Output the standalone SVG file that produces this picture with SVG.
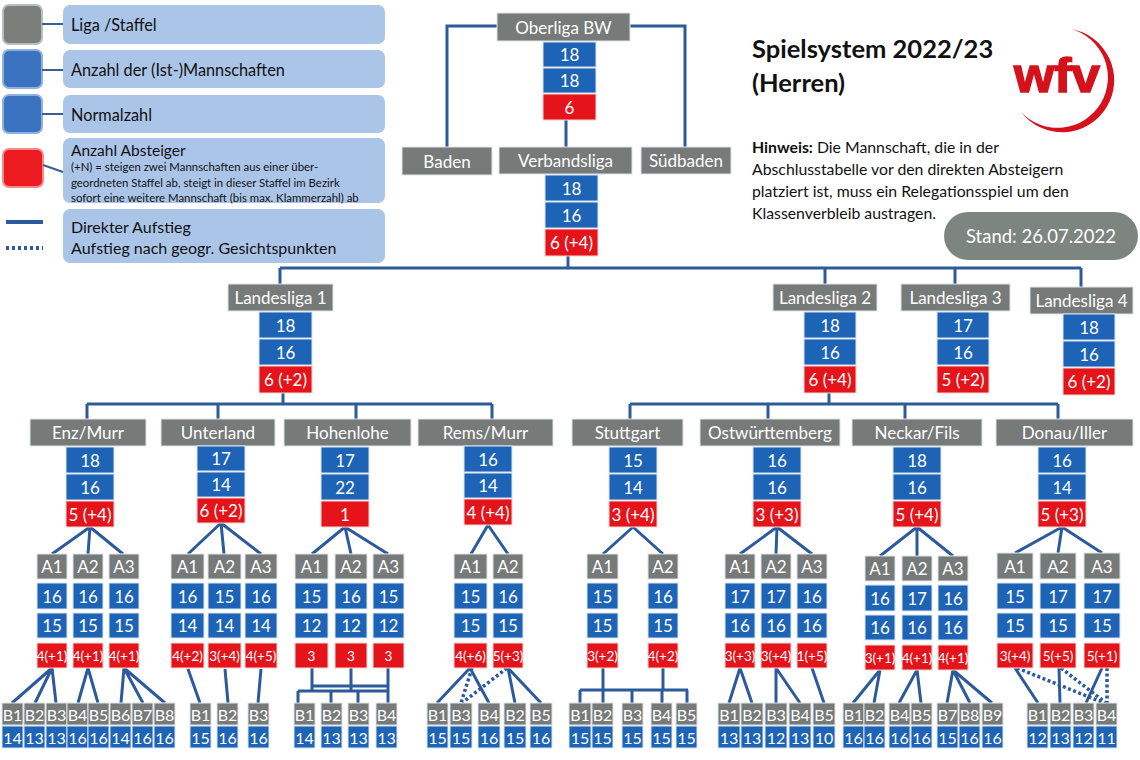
<svg xmlns="http://www.w3.org/2000/svg" width="1140" height="760" viewBox="0 0 1140 760">
<style>
rect.g{fill:#767a78;stroke:#dfe3e6;stroke-width:1}
rect.b{fill:#1d63b6;stroke:#dce6f4;stroke-width:1}
rect.r{fill:#e5141b;stroke:#f3d6d6;stroke-width:1}
text{font-family:Lato,"Liberation Sans",sans-serif;fill:#fff;text-anchor:middle;dominant-baseline:central;font-size:17px}
.h{font-size:17px}
.s{font-size:13.5px}
.bb text{font-size:16px}
.k{fill:#111;text-anchor:start;dominant-baseline:auto}
.c path{fill:none;stroke:#2d5a9b;stroke-width:3}
.c path.d{stroke-dasharray:3 2.5;stroke-width:3.5}
.lb{fill:#abc5e8}
</style>
<rect width="1140" height="760" fill="#fff"/>

<g id="legend">
<rect class="lb" x="63" y="5" width="322" height="39" rx="7"/>
<rect class="lb" x="63" y="50" width="322" height="38" rx="7"/>
<rect class="lb" x="63" y="95" width="322" height="38" rx="7"/>
<rect class="lb" x="63" y="138" width="322" height="65" rx="7"/>
<rect class="lb" x="63" y="209" width="322" height="54" rx="7"/>
<rect x="3" y="5" width="39" height="39" rx="6" fill="#7b7f7c" stroke="#b9bdbb" stroke-width="2"/>
<rect x="3" y="50" width="39" height="38" rx="6" fill="#3c73c0" stroke="#8fb1e0" stroke-width="2"/>
<rect x="3" y="95" width="39" height="38" rx="6" fill="#3c73c0" stroke="#8fb1e0" stroke-width="2"/>
<rect x="3" y="149" width="40" height="38" rx="6" fill="#ec1b1f" stroke="#f58b8d" stroke-width="2"/>
<path d="M42,24H63M42,70H63M42,114H63M43,165L63,172" stroke="#3b5f94" stroke-width="2" fill="none"/>
<path d="M6,222H43" stroke="#2d5a9b" stroke-width="4"/>
<path d="M6,248H43" stroke="#2d5a9b" stroke-width="4" stroke-dasharray="3 3"/>
<text class="k" x="71" y="31" style="font-size:16.3px">Liga /Staffel</text>
<text class="k" x="71" y="76" style="font-size:16.3px">Anzahl der (Ist-)Mannschaften</text>
<text class="k" x="71" y="121" style="font-size:16.3px">Normalzahl</text>
<text class="k" x="71" y="156" style="font-size:15.5px">Anzahl Absteiger</text>
<text class="k" x="71" y="171" style="font-size:11.4px">(+N) = steigen zwei Mannschaften aus einer über-</text>
<text class="k" x="71" y="187" style="font-size:11.4px">geordneten Staffel ab, steigt in dieser Staffel im Bezirk</text>
<text class="k" x="71" y="202" style="font-size:11.4px">sofort eine weitere Mannschaft (bis max. Klammerzahl) ab</text>
<text class="k" x="71" y="233" style="font-size:16px">Direkter Aufstieg</text>
<text class="k" x="71" y="254" style="font-size:16px">Aufstieg nach geogr. Gesichtspunkten</text>
</g>

<g id="title">
<text class="k" x="752" y="58" style="font-size:25.5px;font-weight:bold">Spielsystem 2022/23</text>
<text class="k" x="752" y="92" style="font-size:25.5px;font-weight:bold">(Herren)</text>
<text class="k" x="752" y="153" style="font-size:15.8px"><tspan font-weight="bold">Hinweis:</tspan> Die Mannschaft, die in der</text>
<text class="k" x="752" y="175" style="font-size:15.8px">Abschlusstabelle vor den direkten Absteigern</text>
<text class="k" x="752" y="197" style="font-size:15.8px">platziert ist, muss ein Relegationsspiel um den</text>
<text class="k" x="752" y="219" style="font-size:15.8px">Klassenverbleib austragen.</text>
</g>

<g id="logo">
<path fill="#d5121c" d="M1071,29 A52,52 0 1 1 1021,112 A50.3,50.3 0 1 0 1071,29 Z"/>
<text x="1057" y="92" style="font-family:'Liberation Sans',sans-serif;font-size:48px;font-weight:bold;fill:#d5121c;dominant-baseline:auto;stroke:#d5121c;stroke-width:1.5" textLength="86" lengthAdjust="spacingAndGlyphs">wfv</text>
</g>

<g id="stand">
<rect x="944" y="212" width="194" height="48" rx="24" fill="#7d8580"/>
<text x="1041" y="236" style="font-size:18.5px">Stand: 26.07.2022</text>
</g>

<g class="c" id="connectors">
<path d="M497,26H447V147M630,26H685V147M566,120V147M568,256V268M280,268H1081M280,268V284M825,268V284M955,268V284M1081,268V287"/>
<path d="M283,393V404M87,404H492M87,404V419M218,404V419M356,404V419M492,404V419"/>
<path d="M829,393V404M630,404H1058M630,404V419M768,404V419M905,404V419M1058,404V419"/>
<path d="M90,527L52,554M90,527L88,554M90,527L123,554"/>
<path d="M221,523L188,554M221,523L224,554M221,523L261,554"/>
<path d="M345,527L312,554M345,527L351,554M345,527L388,554"/>
<path d="M488,525L471,554M488,525L508,554"/>
<path d="M633,527L603,554M633,527L663,554"/>
<path d="M777,527L740,554M777,527L776,554M777,527L812,554"/>
<path d="M917,527L880,556M917,527L917,556M917,527L953,556"/>
<path d="M1062,527L1015,553M1062,527L1058,553M1062,527L1102,553"/>
<path d="M52,668L12,703M52,668L35,703M52,668L56,703M88,668L78,703M88,668L98,703M124,668L121,703M124,668L143,703M124,668L165,703"/>
<path d="M188,669L200,703M225,669L228,703M261,669L258,703"/>
<path d="M312,668V691M351,668V691M388,668V703M312,686H388M298,691H388M298,691V703M331,691V703M358,691V703"/>
<path d="M470,668L437,703M470,668L489,703M508,668L515,703M508,668L541,703"/>
<path class="d" d="M472,668L461,703M507,668L462,703"/>
<path d="M603,668V690M663,668V690M580,690H688M580,690V703M603,690V703M632,690V703M662,690V703M687,690V703"/>
<path d="M740,668L729,703M740,668L752,703M776,668L776,703M776,668L800,703M812,668L824,703"/>
<path d="M880,670L853,703M880,670L874,703M917,670L899,703M917,670L921,703M953,670L947,703M953,670L970,703M953,670L992,703"/>
<path d="M1015,668L1038,703M1059,668L1060,703M1102,668L1086,703"/>
<path class="d" d="M1017,668L1104,703M1061,668L1106,703M1107,668V703"/>
</g>

<g id="oberliga"><rect class="g" x="497" y="13" width="133" height="28"/><text class="h" x="563.5" y="27.5">Oberliga BW</text>
<rect class="b" x="543" y="42" width="53" height="25"/><text class="h" x="569.5" y="54.5">18</text>
<rect class="b" x="543" y="68" width="53" height="25"/><text class="h" x="569.5" y="80.5">18</text>
<rect class="r" x="543" y="94" width="53" height="26"/><text class="h" x="569.5" y="107">6</text></g>
<g id="baden"><rect class="g" x="402" y="147" width="90" height="28"/><text class="h" x="447" y="161">Baden</text></g>
<g id="suedbaden"><rect class="g" x="641" y="147" width="90" height="27"/><text class="h" x="686" y="160.5">Südbaden</text></g>
<g id="verbandsliga"><rect class="g" x="499" y="147" width="133" height="27"/><text class="h" x="565.5" y="160.5">Verbandsliga</text>
<rect class="b" x="545" y="175" width="53" height="26"/><text class="h" x="571.5" y="188">18</text>
<rect class="b" x="545" y="202" width="53" height="26"/><text class="h" x="571.5" y="215">16</text>
<rect class="r" x="545" y="229" width="53" height="27"/><text class="h" x="571.5" y="242.5">6 (+4)</text></g>

<g id="ll1"><rect class="g" x="228" y="284" width="105" height="27"/><text class="h" x="280.5" y="297.5">Landesliga 1</text>
<rect class="b" x="259" y="312" width="53" height="26"/><text class="h" x="285.5" y="325">18</text>
<rect class="b" x="259" y="339" width="53" height="26"/><text class="h" x="285.5" y="352">16</text>
<rect class="r" x="259" y="366" width="53" height="27"/><text class="h" x="285.5" y="379.5">6 (+2)</text></g>
<g id="ll2"><rect class="g" x="773" y="284" width="104" height="27"/><text class="h" x="825" y="297.5">Landesliga 2</text>
<rect class="b" x="804" y="312" width="52" height="26"/><text class="h" x="830" y="325">18</text>
<rect class="b" x="804" y="339" width="52" height="26"/><text class="h" x="830" y="352">16</text>
<rect class="r" x="804" y="366" width="52" height="27"/><text class="h" x="830" y="379.5">6 (+4)</text></g>
<g id="ll3"><rect class="g" x="901" y="284" width="109" height="27"/><text class="h" x="955.5" y="297.5">Landesliga 3</text>
<rect class="b" x="937" y="312" width="52" height="26"/><text class="h" x="963" y="325">17</text>
<rect class="b" x="937" y="339" width="52" height="26"/><text class="h" x="963" y="352">16</text>
<rect class="r" x="937" y="366" width="52" height="27"/><text class="h" x="963" y="379.5">5 (+2)</text></g>
<g id="ll4"><rect class="g" x="1030" y="287" width="103" height="27"/><text class="h" x="1081.5" y="300.5">Landesliga 4</text>
<rect class="b" x="1063" y="314" width="52" height="26"/><text class="h" x="1089" y="327">18</text>
<rect class="b" x="1063" y="341" width="52" height="26"/><text class="h" x="1089" y="354">16</text>
<rect class="r" x="1063" y="368" width="52" height="27"/><text class="h" x="1089" y="381.5">6 (+2)</text></g>

<g id="enzmurr"><rect class="g" x="30" y="419" width="116" height="27"/><text class="h" x="88" y="432.5">Enz/Murr</text>
<rect class="b" x="66" y="447" width="48" height="26"/><text class="h" x="90" y="460">18</text>
<rect class="b" x="66" y="474" width="48" height="26"/><text class="h" x="90" y="487">16</text>
<rect class="r" x="66" y="501" width="48" height="26"/><text class="h" x="90" y="514">5 (+4)</text></g>
<g id="unterland"><rect class="g" x="161" y="419" width="114" height="27"/><text class="h" x="218" y="432.5">Unterland</text>
<rect class="b" x="197" y="446" width="48" height="25"/><text class="h" x="221" y="458.5">17</text>
<rect class="b" x="197" y="472" width="48" height="25"/><text class="h" x="221" y="484.5">14</text>
<rect class="r" x="197" y="498" width="48" height="25"/><text class="h" x="221" y="510.5">6 (+2)</text></g>
<g id="hohenlohe"><rect class="g" x="284" y="419" width="127" height="27"/><text class="h" x="347.5" y="432.5">Hohenlohe</text>
<rect class="b" x="321" y="447" width="48" height="26"/><text class="h" x="345" y="460">17</text>
<rect class="b" x="321" y="474" width="48" height="26"/><text class="h" x="345" y="487">22</text>
<rect class="r" x="321" y="501" width="48" height="26"/><text class="h" x="345" y="514">1</text></g>
<g id="remsmurr"><rect class="g" x="418" y="419" width="135" height="27"/><text class="h" x="485.5" y="432.5">Rems/Murr</text>
<rect class="b" x="464" y="446" width="48" height="26"/><text class="h" x="488" y="459">16</text>
<rect class="b" x="464" y="473" width="48" height="25"/><text class="h" x="488" y="485.5">14</text>
<rect class="r" x="464" y="499" width="48" height="26"/><text class="h" x="488" y="512">4 (+4)</text></g>
<g id="stuttgart"><rect class="g" x="572" y="419" width="111" height="27"/><text class="h" x="627.5" y="432.5">Stuttgart</text>
<rect class="b" x="609" y="447" width="48" height="26"/><text class="h" x="633" y="460">15</text>
<rect class="b" x="609" y="474" width="48" height="26"/><text class="h" x="633" y="487">14</text>
<rect class="r" x="609" y="501" width="48" height="26"/><text class="h" x="633" y="514">3 (+4)</text></g>
<g id="ostwuerttemberg"><rect class="g" x="700" y="419" width="140" height="27"/><text class="h" x="770" y="432.5">Ostwürttemberg</text>
<rect class="b" x="753" y="447" width="48" height="26"/><text class="h" x="777" y="460">16</text>
<rect class="b" x="753" y="474" width="48" height="26"/><text class="h" x="777" y="487">16</text>
<rect class="r" x="753" y="501" width="48" height="26"/><text class="h" x="777" y="514">3 (+3)</text></g>
<g id="neckarfils"><rect class="g" x="852" y="419" width="130" height="27"/><text class="h" x="917" y="432.5">Neckar/Fils</text>
<rect class="b" x="893" y="447" width="48" height="26"/><text class="h" x="917" y="460">18</text>
<rect class="b" x="893" y="474" width="48" height="26"/><text class="h" x="917" y="487">16</text>
<rect class="r" x="893" y="501" width="48" height="26"/><text class="h" x="917" y="514">5 (+4)</text></g>
<g id="donauiller"><rect class="g" x="996" y="419" width="137" height="27"/><text class="h" x="1064.5" y="432.5">Donau/Iller</text>
<rect class="b" x="1038" y="447" width="48" height="26"/><text class="h" x="1062" y="460">16</text>
<rect class="b" x="1038" y="474" width="48" height="26"/><text class="h" x="1062" y="487">14</text>
<rect class="r" x="1038" y="501" width="48" height="26"/><text class="h" x="1062" y="514">5 (+3)</text></g>

<!-- A level -->
<g id="em-a1"><rect class="g" x="37" y="554" width="30" height="25"/><text x="52" y="566.5">A1</text><rect class="b" x="37" y="583" width="30" height="26"/><text x="52" y="596">16</text><rect class="b" x="37" y="613" width="30" height="25"/><text x="52" y="625.5">15</text><rect class="r" x="37" y="643" width="30" height="25"/><text class="s" x="52" y="655.5">4(+1)</text></g>
<g id="em-a2"><rect class="g" x="73" y="554" width="30" height="25"/><text x="88" y="566.5">A2</text><rect class="b" x="73" y="583" width="30" height="26"/><text x="88" y="596">16</text><rect class="b" x="73" y="613" width="30" height="25"/><text x="88" y="625.5">15</text><rect class="r" x="73" y="643" width="30" height="25"/><text class="s" x="88" y="655.5">4(+1)</text></g>
<g id="em-a3"><rect class="g" x="109" y="554" width="30" height="25"/><text x="124" y="566.5">A3</text><rect class="b" x="109" y="583" width="30" height="26"/><text x="124" y="596">16</text><rect class="b" x="109" y="613" width="30" height="25"/><text x="124" y="625.5">15</text><rect class="r" x="109" y="643" width="30" height="25"/><text class="s" x="124" y="655.5">4(+1)</text></g>

<g id="ul-a1"><rect class="g" x="171" y="554" width="33" height="25"/><text x="187.5" y="566.5">A1</text><rect class="b" x="171" y="583" width="33" height="26"/><text x="187.5" y="596">16</text><rect class="b" x="171" y="613" width="33" height="25"/><text x="187.5" y="625.5">14</text><rect class="r" x="171" y="643" width="33" height="25"/><text class="s" x="187.5" y="655.5">4(+2)</text></g>
<g id="ul-a2"><rect class="g" x="208" y="554" width="33" height="25"/><text x="224.5" y="566.5">A2</text><rect class="b" x="208" y="583" width="33" height="26"/><text x="224.5" y="596">15</text><rect class="b" x="208" y="613" width="33" height="25"/><text x="224.5" y="625.5">14</text><rect class="r" x="208" y="643" width="33" height="25"/><text class="s" x="224.5" y="655.5">3(+4)</text></g>
<g id="ul-a3"><rect class="g" x="245" y="554" width="32" height="25"/><text x="261" y="566.5">A3</text><rect class="b" x="245" y="583" width="32" height="26"/><text x="261" y="596">16</text><rect class="b" x="245" y="613" width="32" height="25"/><text x="261" y="625.5">14</text><rect class="r" x="245" y="643" width="32" height="25"/><text class="s" x="261" y="655.5">4(+5)</text></g>

<g id="hl-a1"><rect class="g" x="295" y="554" width="33" height="25"/><text x="311.5" y="566.5">A1</text><rect class="b" x="295" y="583" width="33" height="26"/><text x="311.5" y="596">15</text><rect class="b" x="295" y="613" width="33" height="25"/><text x="311.5" y="625.5">12</text><rect class="r" x="295" y="643" width="33" height="25"/><text class="s" x="311.5" y="655.5">3</text></g>
<g id="hl-a2"><rect class="g" x="335" y="554" width="32" height="25"/><text x="351" y="566.5">A2</text><rect class="b" x="335" y="583" width="32" height="26"/><text x="351" y="596">16</text><rect class="b" x="335" y="613" width="32" height="25"/><text x="351" y="625.5">12</text><rect class="r" x="335" y="643" width="32" height="25"/><text class="s" x="351" y="655.5">3</text></g>
<g id="hl-a3"><rect class="g" x="373" y="554" width="31" height="25"/><text x="388.5" y="566.5">A3</text><rect class="b" x="373" y="583" width="31" height="26"/><text x="388.5" y="596">15</text><rect class="b" x="373" y="613" width="31" height="25"/><text x="388.5" y="625.5">12</text><rect class="r" x="373" y="643" width="31" height="25"/><text class="s" x="388.5" y="655.5">3</text></g>

<g id="rm-a1"><rect class="g" x="454" y="554" width="33" height="25"/><text x="470.5" y="566.5">A1</text><rect class="b" x="454" y="583" width="33" height="26"/><text x="470.5" y="596">15</text><rect class="b" x="454" y="613" width="33" height="25"/><text x="470.5" y="625.5">15</text><rect class="r" x="454" y="643" width="33" height="25"/><text class="s" x="470.5" y="655.5">4(+6)</text></g>
<g id="rm-a2"><rect class="g" x="493" y="554" width="30" height="25"/><text x="508" y="566.5">A2</text><rect class="b" x="493" y="583" width="30" height="26"/><text x="508" y="596">16</text><rect class="b" x="493" y="613" width="30" height="25"/><text x="508" y="625.5">15</text><rect class="r" x="493" y="643" width="30" height="25"/><text class="s" x="508" y="655.5">5(+3)</text></g>

<g id="st-a1"><rect class="g" x="587" y="554" width="31" height="25"/><text x="602.5" y="566.5">A1</text><rect class="b" x="587" y="583" width="31" height="26"/><text x="602.5" y="596">15</text><rect class="b" x="587" y="613" width="31" height="25"/><text x="602.5" y="625.5">15</text><rect class="r" x="587" y="643" width="31" height="25"/><text class="s" x="602.5" y="655.5">3(+2)</text></g>
<g id="st-a2"><rect class="g" x="648" y="554" width="30" height="25"/><text x="663" y="566.5">A2</text><rect class="b" x="648" y="583" width="30" height="26"/><text x="663" y="596">16</text><rect class="b" x="648" y="613" width="30" height="25"/><text x="663" y="625.5">15</text><rect class="r" x="648" y="643" width="30" height="25"/><text class="s" x="663" y="655.5">4(+2)</text></g>

<g id="ow-a1"><rect class="g" x="725" y="554" width="30" height="25"/><text x="740" y="566.5">A1</text><rect class="b" x="725" y="583" width="30" height="26"/><text x="740" y="596">17</text><rect class="b" x="725" y="613" width="30" height="25"/><text x="740" y="625.5">16</text><rect class="r" x="725" y="643" width="30" height="25"/><text class="s" x="740" y="655.5">3(+3)</text></g>
<g id="ow-a2"><rect class="g" x="761" y="554" width="30" height="25"/><text x="776" y="566.5">A2</text><rect class="b" x="761" y="583" width="30" height="26"/><text x="776" y="596">17</text><rect class="b" x="761" y="613" width="30" height="25"/><text x="776" y="625.5">16</text><rect class="r" x="761" y="643" width="30" height="25"/><text class="s" x="776" y="655.5">3(+4)</text></g>
<g id="ow-a3"><rect class="g" x="797" y="554" width="30" height="25"/><text x="812" y="566.5">A3</text><rect class="b" x="797" y="583" width="30" height="26"/><text x="812" y="596">16</text><rect class="b" x="797" y="613" width="30" height="25"/><text x="812" y="625.5">16</text><rect class="r" x="797" y="643" width="30" height="25"/><text class="s" x="812" y="655.5">1(+5)</text></g>

<g id="nf-a1"><rect class="g" x="865" y="556" width="30" height="25"/><text x="880" y="568.5">A1</text><rect class="b" x="865" y="585" width="30" height="26"/><text x="880" y="598">16</text><rect class="b" x="865" y="615" width="30" height="25"/><text x="880" y="627.5">16</text><rect class="r" x="865" y="645" width="30" height="25"/><text class="s" x="880" y="657.5">3(+1)</text></g>
<g id="nf-a2"><rect class="g" x="902" y="556" width="30" height="25"/><text x="917" y="568.5">A2</text><rect class="b" x="902" y="585" width="30" height="26"/><text x="917" y="598">17</text><rect class="b" x="902" y="615" width="30" height="25"/><text x="917" y="627.5">16</text><rect class="r" x="902" y="645" width="30" height="25"/><text class="s" x="917" y="657.5">4(+1)</text></g>
<g id="nf-a3"><rect class="g" x="938" y="556" width="30" height="25"/><text x="953" y="568.5">A3</text><rect class="b" x="938" y="585" width="30" height="26"/><text x="953" y="598">16</text><rect class="b" x="938" y="615" width="30" height="25"/><text x="953" y="627.5">16</text><rect class="r" x="938" y="645" width="30" height="25"/><text class="s" x="953" y="657.5">4(+1)</text></g>

<g id="di-a1"><rect class="g" x="997" y="553" width="36" height="26"/><text x="1015" y="566">A1</text><rect class="b" x="997" y="583" width="36" height="26"/><text x="1015" y="596">15</text><rect class="b" x="997" y="613" width="36" height="25"/><text x="1015" y="625.5">15</text><rect class="r" x="997" y="643" width="36" height="25"/><text class="s" x="1015" y="655.5">3(+4)</text></g>
<g id="di-a2"><rect class="g" x="1040" y="553" width="36" height="26"/><text x="1058" y="566">A2</text><rect class="b" x="1040" y="583" width="36" height="26"/><text x="1058" y="596">17</text><rect class="b" x="1040" y="613" width="36" height="25"/><text x="1058" y="625.5">15</text><rect class="r" x="1040" y="643" width="36" height="25"/><text class="s" x="1058" y="655.5">5(+5)</text></g>
<g id="di-a3"><rect class="g" x="1084" y="553" width="36" height="26"/><text x="1102" y="566">A3</text><rect class="b" x="1084" y="583" width="36" height="26"/><text x="1102" y="596">17</text><rect class="b" x="1084" y="613" width="36" height="25"/><text x="1102" y="625.5">15</text><rect class="r" x="1084" y="643" width="36" height="25"/><text class="s" x="1102" y="655.5">5(+1)</text></g>

<!-- B level -->
<g class="bb">
<g id="em-b1"><rect class="g" x="2" y="703" width="21" height="22"/><text x="12.5" y="714">B1</text><rect class="b" x="2" y="726" width="21" height="22"/><text x="12.5" y="737">14</text></g>
<g id="em-b2"><rect class="g" x="24" y="703" width="21" height="22"/><text x="34.5" y="714">B2</text><rect class="b" x="24" y="726" width="21" height="22"/><text x="34.5" y="737">13</text></g>
<g id="em-b3"><rect class="g" x="46" y="703" width="21" height="22"/><text x="56.5" y="714">B3</text><rect class="b" x="46" y="726" width="21" height="22"/><text x="56.5" y="737">13</text></g>
<g id="em-b4"><rect class="g" x="67" y="703" width="21" height="22"/><text x="77.5" y="714">B4</text><rect class="b" x="67" y="726" width="21" height="22"/><text x="77.5" y="737">16</text></g>
<g id="em-b5"><rect class="g" x="88" y="703" width="21" height="22"/><text x="98.5" y="714">B5</text><rect class="b" x="88" y="726" width="21" height="22"/><text x="98.5" y="737">16</text></g>
<g id="em-b6"><rect class="g" x="110" y="703" width="21" height="22"/><text x="120.5" y="714">B6</text><rect class="b" x="110" y="726" width="21" height="22"/><text x="120.5" y="737">14</text></g>
<g id="em-b7"><rect class="g" x="132" y="703" width="21" height="22"/><text x="142.5" y="714">B7</text><rect class="b" x="132" y="726" width="21" height="22"/><text x="142.5" y="737">16</text></g>
<g id="em-b8"><rect class="g" x="154" y="703" width="21" height="22"/><text x="164.5" y="714">B8</text><rect class="b" x="154" y="726" width="21" height="22"/><text x="164.5" y="737">16</text></g>

<g id="ul-b1"><rect class="g" x="190" y="703" width="21" height="22"/><text x="200.5" y="714">B1</text><rect class="b" x="190" y="726" width="21" height="22"/><text x="200.5" y="737">15</text></g>
<g id="ul-b2"><rect class="g" x="217" y="703" width="21" height="22"/><text x="227.5" y="714">B2</text><rect class="b" x="217" y="726" width="21" height="22"/><text x="227.5" y="737">16</text></g>
<g id="ul-b3"><rect class="g" x="248" y="703" width="21" height="22"/><text x="258.5" y="714">B3</text><rect class="b" x="248" y="726" width="21" height="22"/><text x="258.5" y="737">16</text></g>

<g id="hl-b1"><rect class="g" x="294" y="703" width="21" height="22"/><text x="304.5" y="714">B1</text><rect class="b" x="294" y="726" width="21" height="22"/><text x="304.5" y="737">14</text></g>
<g id="hl-b2"><rect class="g" x="321" y="703" width="21" height="22"/><text x="331.5" y="714">B2</text><rect class="b" x="321" y="726" width="21" height="22"/><text x="331.5" y="737">13</text></g>
<g id="hl-b3"><rect class="g" x="348" y="703" width="21" height="22"/><text x="358.5" y="714">B3</text><rect class="b" x="348" y="726" width="21" height="22"/><text x="358.5" y="737">13</text></g>
<g id="hl-b4"><rect class="g" x="376" y="703" width="21" height="22"/><text x="386.5" y="714">B4</text><rect class="b" x="376" y="726" width="21" height="22"/><text x="386.5" y="737">13</text></g>

<g id="rm-b1"><rect class="g" x="427" y="703" width="21" height="22"/><text x="437.5" y="714">B1</text><rect class="b" x="427" y="726" width="21" height="22"/><text x="437.5" y="737">15</text></g>
<g id="rm-b3"><rect class="g" x="450" y="703" width="22" height="22"/><text x="461" y="714">B3</text><rect class="b" x="450" y="726" width="22" height="22"/><text x="461" y="737">15</text></g>
<g id="rm-b4"><rect class="g" x="478" y="703" width="22" height="22"/><text x="489" y="714">B4</text><rect class="b" x="478" y="726" width="22" height="22"/><text x="489" y="737">16</text></g>
<g id="rm-b2"><rect class="g" x="504" y="703" width="22" height="22"/><text x="515" y="714">B2</text><rect class="b" x="504" y="726" width="22" height="22"/><text x="515" y="737">15</text></g>
<g id="rm-b5"><rect class="g" x="530" y="703" width="22" height="22"/><text x="541" y="714">B5</text><rect class="b" x="530" y="726" width="22" height="22"/><text x="541" y="737">16</text></g>

<g id="st-b1"><rect class="g" x="569" y="703" width="22" height="22"/><text x="580" y="714">B1</text><rect class="b" x="569" y="726" width="22" height="22"/><text x="580" y="737">15</text></g>
<g id="st-b2"><rect class="g" x="592" y="703" width="21" height="22"/><text x="602.5" y="714">B2</text><rect class="b" x="592" y="726" width="21" height="22"/><text x="602.5" y="737">15</text></g>
<g id="st-b3"><rect class="g" x="622" y="703" width="21" height="22"/><text x="632.5" y="714">B3</text><rect class="b" x="622" y="726" width="21" height="22"/><text x="632.5" y="737">15</text></g>
<g id="st-b4"><rect class="g" x="651" y="703" width="21" height="22"/><text x="661.5" y="714">B4</text><rect class="b" x="651" y="726" width="21" height="22"/><text x="661.5" y="737">15</text></g>
<g id="st-b5"><rect class="g" x="676" y="703" width="21" height="22"/><text x="686.5" y="714">B5</text><rect class="b" x="676" y="726" width="21" height="22"/><text x="686.5" y="737">15</text></g>

<g id="ow-b1"><rect class="g" x="718" y="703" width="22" height="22"/><text x="729" y="714">B1</text><rect class="b" x="718" y="726" width="22" height="22"/><text x="729" y="737">13</text></g>
<g id="ow-b2"><rect class="g" x="741" y="703" width="22" height="22"/><text x="752" y="714">B2</text><rect class="b" x="741" y="726" width="22" height="22"/><text x="752" y="737">13</text></g>
<g id="ow-b3"><rect class="g" x="765" y="703" width="22" height="22"/><text x="776" y="714">B3</text><rect class="b" x="765" y="726" width="22" height="22"/><text x="776" y="737">12</text></g>
<g id="ow-b4"><rect class="g" x="789" y="703" width="22" height="22"/><text x="800" y="714">B4</text><rect class="b" x="789" y="726" width="22" height="22"/><text x="800" y="737">13</text></g>
<g id="ow-b5"><rect class="g" x="813" y="703" width="22" height="22"/><text x="824" y="714">B5</text><rect class="b" x="813" y="726" width="22" height="22"/><text x="824" y="737">10</text></g>

<g id="nf-b1"><rect class="g" x="843" y="703" width="21" height="22"/><text x="853.5" y="714">B1</text><rect class="b" x="843" y="726" width="21" height="22"/><text x="853.5" y="737">16</text></g>
<g id="nf-b2"><rect class="g" x="864" y="703" width="21" height="22"/><text x="874.5" y="714">B2</text><rect class="b" x="864" y="726" width="21" height="22"/><text x="874.5" y="737">16</text></g>
<g id="nf-b4"><rect class="g" x="889" y="703" width="21" height="22"/><text x="899.5" y="714">B4</text><rect class="b" x="889" y="726" width="21" height="22"/><text x="899.5" y="737">16</text></g>
<g id="nf-b5"><rect class="g" x="911" y="703" width="21" height="22"/><text x="921.5" y="714">B5</text><rect class="b" x="911" y="726" width="21" height="22"/><text x="921.5" y="737">16</text></g>
<g id="nf-b7"><rect class="g" x="937" y="703" width="21" height="22"/><text x="947.5" y="714">B7</text><rect class="b" x="937" y="726" width="21" height="22"/><text x="947.5" y="737">15</text></g>
<g id="nf-b8"><rect class="g" x="959" y="703" width="21" height="22"/><text x="969.5" y="714">B8</text><rect class="b" x="959" y="726" width="21" height="22"/><text x="969.5" y="737">16</text></g>
<g id="nf-b9"><rect class="g" x="982" y="703" width="21" height="22"/><text x="992.5" y="714">B9</text><rect class="b" x="982" y="726" width="21" height="22"/><text x="992.5" y="737">16</text></g>

<g id="di-b1"><rect class="g" x="1027" y="703" width="21" height="22"/><text x="1037.5" y="714">B1</text><rect class="b" x="1027" y="726" width="21" height="22"/><text x="1037.5" y="737">12</text></g>
<g id="di-b2"><rect class="g" x="1050" y="703" width="21" height="22"/><text x="1060.5" y="714">B2</text><rect class="b" x="1050" y="726" width="21" height="22"/><text x="1060.5" y="737">13</text></g>
<g id="di-b3"><rect class="g" x="1073" y="703" width="21" height="22"/><text x="1083.5" y="714">B3</text><rect class="b" x="1073" y="726" width="21" height="22"/><text x="1083.5" y="737">12</text></g>
<g id="di-b4"><rect class="g" x="1096" y="703" width="21" height="22"/><text x="1106.5" y="714">B4</text><rect class="b" x="1096" y="726" width="21" height="22"/><text x="1106.5" y="737">11</text></g>
</g>
</svg>
